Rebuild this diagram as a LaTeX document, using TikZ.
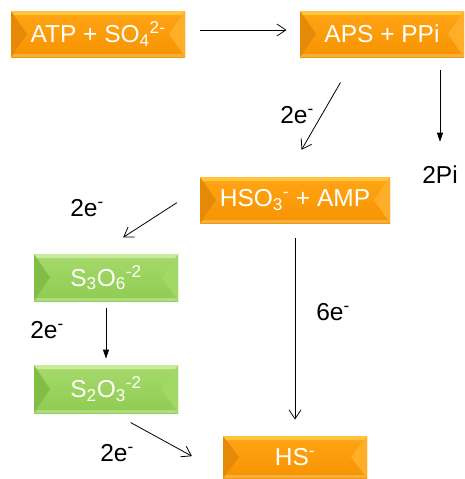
\documentclass[tikz,border=0pt]{standalone}
\usepackage{fontspec}
\setmainfont{Liberation Sans}
\usetikzlibrary{arrows.meta}

\newcommand\diagfont{\fontsize{24.5}{29}\selectfont}

% colours of the bevelled boxes
\definecolor{orangetop}{HTML}{FFC43C}
\definecolor{orangeface}{HTML}{FFA516}
\definecolor{orangelow}{HTML}{F79300}
\definecolor{orangeleft}{HTML}{E48A06}
\definecolor{orangeright}{HTML}{FFAE2A}
\definecolor{orangebot}{HTML}{F2B040}
\definecolor{greentop}{HTML}{C8EC9C}
\definecolor{greenface}{HTML}{A6DA6C}
\definecolor{greenlow}{HTML}{8FCB52}
\definecolor{greenleft}{HTML}{82BE46}
\definecolor{greenright}{HTML}{A2D866}
\definecolor{greenbot}{HTML}{B0DC80}

\tikzset{
  bevel/.style={rectangle, inner sep=0pt, text=white, font=\diagfont,
    top color=#1face, bottom color=#1low,
    path picture={
      \coordinate (nw) at (path picture bounding box.north west);
      \coordinate (ne) at (path picture bounding box.north east);
      \coordinate (sw) at (path picture bounding box.south west);
      \coordinate (se) at (path picture bounding box.south east);
      \fill[#1left]  (nw) -- ([xshift=16pt]path picture bounding box.west) -- (sw) -- cycle;
      \fill[#1right] (ne) -- ([xshift=-16pt]path picture bounding box.east) -- (se) -- cycle;
      \fill[#1top] (nw) -- (ne) -- ([shift={(-3pt,-4pt)}]ne) -- ([shift={(3pt,-4pt)}]nw) -- cycle;
      \fill[#1bot] (sw) -- ([shift={(3pt,3pt)}]sw) -- ([shift={(-3pt,3pt)}]se) -- (se) -- cycle;
    }},
  orangebox/.style={bevel=orange},
  greenbox/.style={bevel=green},
  elabel/.style={inner sep=0pt, font=\diagfont},
  filled/.style={-{Triangle[length=9pt,width=6pt]}},
}

\begin{document}
\begin{tikzpicture}[x=1pt, y=-1pt, line width=0.8pt, >={Straight Barb[length=9pt,width=12pt]}]
    \useasboundingbox (0,0) rectangle (465,479);

    % Nodes {atp, aps, hso, s3o6, s2o3, hs}
    \node [orangebox, minimum width=174, minimum height=46] (atp)  at (98,34)    {ATP + SO\textsubscript{4}\textsuperscript{2-}};
    \node [orangebox, minimum width=164, minimum height=46] (aps)  at (382,34)   {APS + PPi};
    \node [orangebox, minimum width=190, minimum height=46] (hso)  at (295,200)  {HSO\textsubscript{3}\textsuperscript{-} + AMP};
    \node [greenbox,  minimum width=144, minimum height=47] (s3o6) at (106,277.5) {S\textsubscript{3}O\textsubscript{6}\textsuperscript{-2}};
    \node [greenbox,  minimum width=144, minimum height=48] (s2o3) at (106,389)  {S\textsubscript{2}O\textsubscript{3}\textsuperscript{-2}};
    \node [orangebox, minimum width=144, minimum height=42] (hs)   at (295,457)  {HS\textsuperscript{-}};

    % Labels
    \node [elabel] (pi) at (440,175) {2Pi};
    \node [elabel] (e1) at (297,115) {2e\textsuperscript{-}};
    \node [elabel] (e2) at (87,208)  {2e\textsuperscript{-}};
    \node [elabel] (e3) at (333,312) {6e\textsuperscript{-}};
    \node [elabel] (e4) at (47,330)  {2e\textsuperscript{-}};
    \node [elabel] (e5) at (117,453) {2e\textsuperscript{-}};

    % Paths
    \path [->]     ([yshift=4pt]atp.east)     edge [shorten <=15pt, shorten >=13pt] ([yshift=4pt]aps.west);
    \path [->]     ([xshift=-27pt]aps.south)  edge [shorten <=29pt, shorten >=31pt] ([xshift=-9pt]hso.north);
    \path [filled] (pi.north |- aps.south)    edge [shorten <=13pt, shorten >=24pt] (pi.north);
    \path [->]     ([yshift=12pt]hso.west)    edge [shorten <=27pt, shorten >=30pt] ([xshift=-8pt]s3o6.north);
    \path [->]     (hso.south)                edge [shorten <=15pt, shorten >=16pt] (hs.north);
    \path [filled] (s3o6.south)               edge [shorten <=7pt, shorten >=6pt]   (s2o3.north);
    \path [->]     ([xshift=8pt]s2o3.south)   edge [shorten <=19pt, shorten >=35pt] ([yshift=-16pt]hs.west);

\end{tikzpicture}
\end{document}
